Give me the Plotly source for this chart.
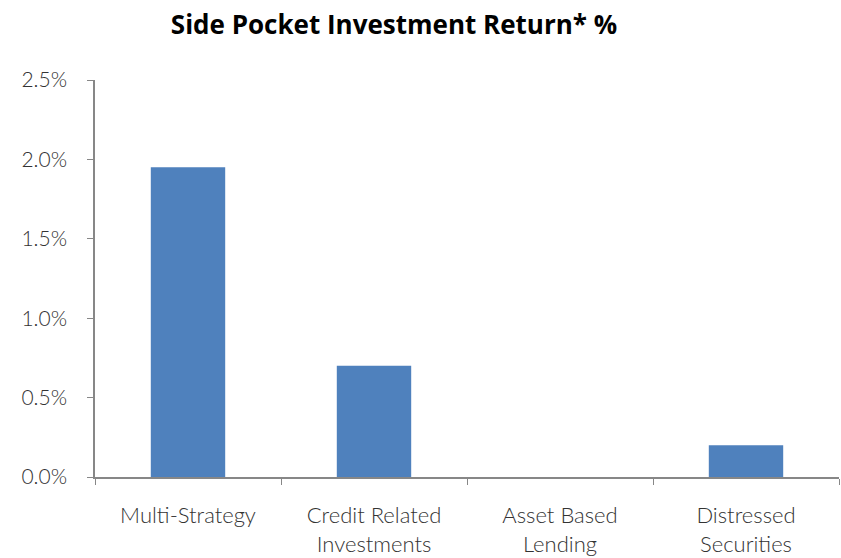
import plotly.graph_objects as go

# Side pocket returns by strategy (percent)
categories = ["Multi-Strategy", "Credit Related<br>Investments", "Asset Based<br>Lending", "Distressed<br>Securities"]
returns_pct = [1.95, 0.70, 0.0, 0.20]
y_ticks = [0.0, 0.5, 1.0, 1.5, 2.0, 2.5]
y_tick_text = [f"{v:.1f}%" for v in y_ticks]

bar_color = "#4F81BD"
axis_color = "#878787"
x_label_font = dict(family="Lato, Open Sans, sans-serif", size=22, color="#333333", weight=300)
y_label_font = dict(family="Lato, Open Sans, sans-serif", size=21, color="#333333", weight=300)

fig = go.Figure(
    go.Bar(
        x=categories,
        y=returns_pct,
        marker=dict(color=bar_color, line=dict(width=0)),
        width=0.4,
    )
)

fig.update_layout(
    width=841,
    height=558,
    margin=dict(l=95, r=2, t=80, b=81),
    paper_bgcolor="white",
    plot_bgcolor="white",
    showlegend=False,
    title=dict(
        text="<b>Side Pocket Investment Return* %</b>",
        x=394 / 841,
        xanchor="center",
        y=1 - 25 / 558,
        yanchor="middle",
        font=dict(family="Open Sans, sans-serif", size=26, color="#000000"),
    ),
)

fig.update_xaxes(
    showline=True,
    linecolor=axis_color,
    linewidth=1.5,
    ticks="outside",
    tickson="boundaries",
    ticklen=6,
    tickcolor=axis_color,
    tickfont=x_label_font,
    ticklabelstandoff=18,
    showgrid=False,
    zeroline=False,
)

fig.update_yaxes(
    range=[0, 2.5],
    tickvals=y_ticks,
    ticktext=y_tick_text,
    showline=True,
    linecolor=axis_color,
    linewidth=1.5,
    ticks="outside",
    ticklen=6,
    tickcolor=axis_color,
    tickfont=y_label_font,
    ticklabelstandoff=16,
    showgrid=False,
    zeroline=False,
)

fig.write_html("out.html")
